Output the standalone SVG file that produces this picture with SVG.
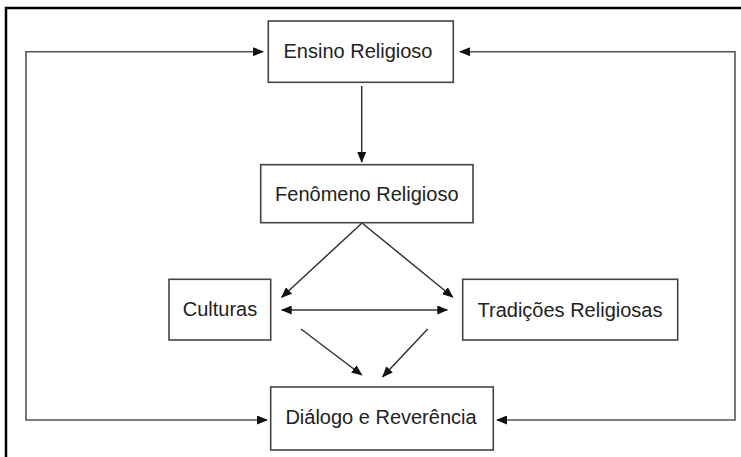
<svg xmlns="http://www.w3.org/2000/svg" width="741" height="457" viewBox="0 0 741 457">
  <defs>
    <style>
      .box { fill: #ffffff; stroke: #444444; stroke-width: 1.6; }
      .lbl { font-family: "Liberation Sans", Arial, sans-serif; font-size: 20px; fill: #222222; text-anchor: middle; }
      .edge { fill: none; stroke: #333333; stroke-width: 1.5; }
      .loop { fill: none; stroke: #555555; stroke-width: 1.6; }
    </style>
    <marker id="arr" markerUnits="userSpaceOnUse" markerWidth="11" markerHeight="9" refX="10" refY="4.5" orient="auto-start-reverse" viewBox="0 0 11 9">
      <path d="M0,0 L11,4.5 L0,9 z" fill="#111111"/>
    </marker>
  </defs>
  <rect x="0" y="0" width="741" height="457" fill="#ffffff"/>
  <path d="M6,460 V8 H745" fill="none" stroke="#000000" stroke-width="2.5"/>

  <g id="connectors">
    <path class="loop" d="M263,51.7 H26 V420 H267" marker-start="url(#arr)" marker-end="url(#arr)"/>
    <path class="loop" d="M460,51.7 H735 V420 H497" marker-start="url(#arr)" marker-end="url(#arr)"/>
    <line class="edge" x1="361.7" y1="86" x2="361.7" y2="162" marker-end="url(#arr)"/>
    <line class="edge" x1="362" y1="223" x2="281.7" y2="297.3" marker-end="url(#arr)"/>
    <line class="edge" x1="362" y1="223" x2="452.7" y2="297" marker-end="url(#arr)"/>
    <line class="edge" x1="281.7" y1="310" x2="447.3" y2="310" marker-start="url(#arr)" marker-end="url(#arr)"/>
    <line class="edge" x1="301" y1="329" x2="361.7" y2="375" marker-end="url(#arr)"/>
    <line class="edge" x1="427.7" y1="329" x2="382.7" y2="376.7" marker-end="url(#arr)"/>
  </g>

  <g id="ensino">
    <rect class="box" x="268.3" y="21" width="185" height="61.3"/>
    <text class="lbl" x="358" y="58.3">Ensino Religioso</text>
  </g>
  <g id="fenomeno">
    <rect class="box" x="260.7" y="164.7" width="212.3" height="58"/>
    <text class="lbl" x="366.8" y="200.7">Fenômeno Religioso</text>
  </g>
  <g id="culturas">
    <rect class="box" x="169" y="279.3" width="101.7" height="60.7"/>
    <text class="lbl" x="220" y="316.3">Culturas</text>
  </g>
  <g id="tradicoes">
    <rect class="box" x="462.7" y="279.3" width="215" height="60.7"/>
    <text class="lbl" x="570" y="316.7">Tradições Religiosas</text>
  </g>
  <g id="dialogo">
    <rect class="box" x="270.7" y="387" width="222.6" height="63"/>
    <text class="lbl" x="381" y="424">Diálogo e Reverência</text>
  </g>
</svg>
